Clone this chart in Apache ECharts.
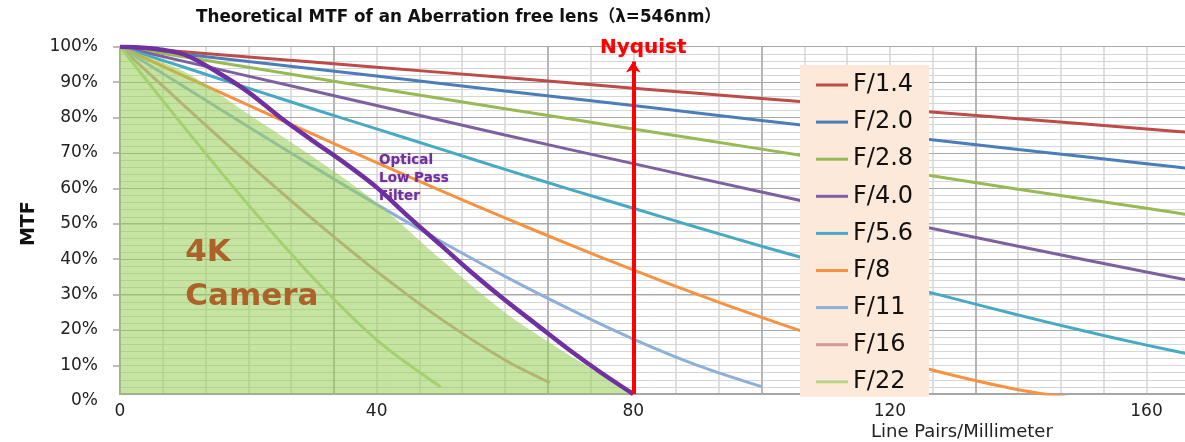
<!DOCTYPE html>
<html>
<head>
<meta charset="utf-8">
<script src="https://cdn.jsdelivr.net/npm/echarts@6/dist/echarts.min.js"></script>
<style>
  html, body { margin: 0; padding: 0; background: #ffffff; }
  #chart { width: 1185px; height: 442px; }
</style>
</head>
<body>
<div id="chart"></div>
<script>
// ---- Text ----
const TITLE = 'Theoretical MTF of an Aberration free lens（λ=546nm）';
const X_NAME = 'Line Pairs/Millimeter';
const Y_NAME = 'MTF';
const NYQUIST_LABEL = 'Nyquist';
const OLPF_LABEL = 'Optical\nLow Pass\nFilter';
const CAMERA_LABEL = '4K\nCamera';

// ---- Axis ticks ----
const X_TICK_LABELS = [0, 40, 80, 120, 160];
const Y_TICK_LABELS = [0, 0.1, 0.2, 0.3, 0.4, 0.5, 0.6, 0.7, 0.8, 0.9, 1.0];
const Y_TICK_MARKS = [0.1, 0.2, 0.3, 0.4, 0.5, 0.6, 0.7, 0.8, 0.9, 1.0];

// ---- Lens MTF curves (frequency in lp/mm, MTF as fraction) ----
const fStops = ['F/1.4', 'F/2.0', 'F/2.8', 'F/4.0', 'F/5.6', 'F/8', 'F/11', 'F/16', 'F/22'];

const freqWide = [0, 20, 40, 60, 80, 100, 120, 140, 160, 170];
const mtfF14 = [1, 0.971, 0.942, 0.913, 0.883, 0.854, 0.825, 0.797, 0.768, 0.753];
const mtfF20 = [1, 0.958, 0.917, 0.875, 0.834, 0.792, 0.751, 0.710, 0.670, 0.650];
const mtfF28 = [1, 0.942, 0.883, 0.825, 0.768, 0.711, 0.654, 0.598, 0.544, 0.516];
const mtfF40 = [1, 0.917, 0.834, 0.751, 0.670, 0.590, 0.512, 0.437, 0.364, 0.329];

const freqF56 = [0, 10, 20, 30, 40, 50, 60, 70, 80, 90, 100, 110, 120, 130, 140, 150, 160, 170];
const mtfF56 = [1, 0.942, 0.883, 0.825, 0.768, 0.711, 0.654, 0.598, 0.544, 0.490, 0.437, 0.386, 0.336, 0.289, 0.243, 0.199, 0.158, 0.120];

const freqF8 = [0, 10, 20, 30, 40, 50, 60, 70, 80, 90, 100, 110, 120, 130, 140, 150];
const mtfF8 = [1, 0.917, 0.835, 0.754, 0.673, 0.594, 0.517, 0.442, 0.370, 0.301, 0.236, 0.175, 0.120, 0.072, 0.032, 0.005];

const freqF11 = [0, 10, 20, 30, 40, 50, 60, 70, 80, 90, 100];
const mtfF11 = [1, 0.887, 0.774, 0.663, 0.555, 0.451, 0.352, 0.260, 0.175, 0.101, 0.041];

const freqF16 = [0, 10, 20, 30, 40, 50, 60, 67];
const mtfF16 = [1, 0.834, 0.671, 0.514, 0.366, 0.232, 0.116, 0.052];

const freqF22 = [0, 10, 20, 30, 40, 50];
const mtfF22 = [1, 0.773, 0.554, 0.350, 0.173, 0.040];

// ---- Optical low pass filter response ----
const freqOlpf = [0, 5, 10, 15, 20, 25, 30, 35, 40, 45, 50, 55, 60, 65, 70, 75, 80];
const mtfOlpf = [1, 0.995, 0.978, 0.930, 0.872, 0.800, 0.735, 0.672, 0.603, 0.520, 0.440, 0.360, 0.285, 0.215, 0.145, 0.080, 0.020];

// ---- 4K camera region (upper edge) ----
const freqCamera = [0, 10, 20, 30, 40, 50, 60, 70, 80];
const mtfCamera = [1, 0.930, 0.810, 0.690, 0.560, 0.400, 0.250, 0.130, 0.020];

// ---- Nyquist frequency marker ----
const NYQUIST_FREQ = 80;
const NYQUIST_SPAN = [0.02, 0.958];

// ---- Styles ----
const lineColors = ['#be4b48', '#4a7ebb', '#98b954', '#7d60a0', '#46aac5', '#f69240', '#8eb0d8', '#d99694', '#b7d68c'];
const FONT = '"DejaVu Sans", "Noto Sans CJK SC", sans-serif';
const GRID_LIGHT = '#d6d6d6';
const GRID_DARK = '#a9a9a9';
const AXIS_GRAY = '#a6a6a6';

const zip = (xs, ys) => xs.map((x, i) => [x, ys[i]]);

const curves = [
  zip(freqWide, mtfF14),
  zip(freqWide, mtfF20),
  zip(freqWide, mtfF28),
  zip(freqWide, mtfF40),
  zip(freqF56, mtfF56),
  zip(freqF8, mtfF8),
  zip(freqF11, mtfF11),
  zip(freqF16, mtfF16),
  zip(freqF22, mtfF22)
];

const X_MAX = 166;

const lensSeries = curves.map((data, i) => ({
  name: fStops[i],
  type: 'line',
  xAxisIndex: 0,
  yAxisIndex: 0,
  data: data,
  symbol: 'none',
  smooth: 0.3,
  clip: true,
  z: 2,
  lineStyle: { color: lineColors[i], width: 3 },
  itemStyle: { color: lineColors[i] }
}));

const chart = echarts.init(document.getElementById('chart'), null, { renderer: 'canvas' });

chart.setOption({
  animation: false,
  textStyle: { fontFamily: FONT },
  title: [
    {
      text: TITLE,
      left: 196,
      top: 9,
      padding: 0,
      textStyle: { fontFamily: FONT, fontSize: 16.8, fontWeight: 'bold', color: '#111111' }
    },
    {
      text: X_NAME,
      left: 871,
      top: 423,
      padding: 0,
      textStyle: { fontFamily: FONT, fontSize: 18, fontWeight: 'normal', color: '#222222' }
    }
  ],
  legend: {
    data: fStops,
    orient: 'vertical',
    left: 800,
    top: 65,
    padding: [8, 16, 3, 16],
    backgroundColor: '#fde9d9',
    icon: 'rect',
    itemWidth: 32,
    itemHeight: 3,
    itemGap: 13.1,
    selectedMode: false,
    textStyle: { fontFamily: FONT, fontSize: 24, lineHeight: 24, color: '#111111' }
  },
  grid: [
    { left: 120, right: 0, top: 46.7, bottom: 48 },
    { left: 120, right: 0, top: 46.7, bottom: 41.3 }
  ],
  xAxis: [
    {
      type: 'value', gridIndex: 0, position: 'bottom',
      min: 0, max: X_MAX, interval: 20 / 3,
      axisLine: { show: true, lineStyle: { color: AXIS_GRAY, width: 2 } },
      axisTick: { show: false },
      axisLabel: {
        customValues: X_TICK_LABELS, margin: 9,
        fontFamily: FONT, fontSize: 17, color: '#222222',
        formatter: v => String(Math.round(v))
      },
      splitLine: { show: true, showMaxLine: false, lineStyle: { color: GRID_LIGHT, width: 1.5 } }
    },
    {
      type: 'value', gridIndex: 0, position: 'top',
      min: 0, max: X_MAX, interval: 100 / 3,
      axisLine: { show: false }, axisTick: { show: false }, axisLabel: { show: false },
      splitLine: { show: true, showMaxLine: false, lineStyle: { color: GRID_DARK, width: 1.5 } },
      z: 1
    },
    {
      type: 'value', gridIndex: 1, min: 0, max: X_MAX, interval: 100 / 3,
      axisLine: { show: false }, axisTick: { show: false }, axisLabel: { show: false },
      splitLine: { show: false }
    }
  ],
  yAxis: [
    {
      type: 'value', gridIndex: 0,
      min: 0.02, max: 1, interval: 0.02,
      axisLine: { show: true, lineStyle: { color: AXIS_GRAY, width: 2 } },
      axisTick: { show: false },
      axisLabel: { show: false },
      splitLine: { show: true, showMinLine: false, lineStyle: { color: GRID_LIGHT, width: 1 } }
    },
    {
      type: 'value', gridIndex: 1,
      min: 0, max: 1, interval: 0.1,
      name: Y_NAME, nameLocation: 'middle', nameGap: 81, nameRotate: 90,
      nameTextStyle: { fontFamily: FONT, fontSize: 19, fontWeight: 'bold', color: '#111111' },
      axisLine: { show: false },
      axisTick: { show: true, customValues: Y_TICK_MARKS, length: 7, lineStyle: { color: AXIS_GRAY, width: 1.5 } },
      axisLabel: {
        customValues: Y_TICK_LABELS, margin: 22,
        fontFamily: FONT, fontSize: 17, color: '#222222',
        formatter: v => Math.round(v * 100) + '%'
      },
      splitLine: { show: true, showMinLine: false, lineStyle: { color: GRID_DARK, width: 1.2 } },
      z: 1
    }
  ],
  series: lensSeries.concat([
    {
      name: '4K Camera',
      type: 'line',
      xAxisIndex: 0, yAxisIndex: 0,
      data: zip(freqCamera, mtfCamera),
      symbol: 'none',
      smooth: 0.3,
      z: 3,
      lineStyle: { width: 0, opacity: 0 },
      areaStyle: { color: 'rgba(150, 205, 85, 0.55)', opacity: 1, origin: 'start' },
      markPoint: {
        symbol: 'rect', symbolSize: 1,
        itemStyle: { color: 'transparent' },
        label: {
          show: true, position: 'right', distance: 0,
          formatter: CAMERA_LABEL,
          fontFamily: FONT, fontSize: 31, fontWeight: 'bold', lineHeight: 44,
          color: '#ad622a', align: 'left'
        },
        data: [{ coord: [10.1, 0.357] }]
      }
    },
    {
      name: 'Optical Low Pass Filter',
      type: 'line',
      xAxisIndex: 0, yAxisIndex: 0,
      data: zip(freqOlpf, mtfOlpf),
      symbol: 'none',
      smooth: 0.3,
      z: 4,
      lineStyle: { color: '#7030a0', width: 4.5 },
      markPoint: {
        symbol: 'rect', symbolSize: 1,
        itemStyle: { color: 'transparent' },
        label: {
          show: true, position: 'right', distance: 0,
          formatter: OLPF_LABEL,
          fontFamily: FONT, fontSize: 13.5, fontWeight: 'bold', lineHeight: 18.3,
          color: '#7030a0', align: 'left',
          textShadowColor: 'rgba(60, 0, 90, 0.35)', textShadowBlur: 2
        },
        data: [{ coord: [40.3, 0.6285] }]
      },
      markLine: {
        silent: true,
        symbol: ['none', 'arrow'],
        symbolSize: 11,
        lineStyle: { color: '#ff0000', width: 4, type: 'solid' },
        label: {
          show: true, position: 'end', distance: 4, offset: [10, 0],
          formatter: NYQUIST_LABEL,
          fontFamily: FONT, fontSize: 20, fontWeight: 'bold', color: '#ff0000',
          textShadowColor: 'rgba(120, 0, 0, 0.3)', textShadowBlur: 2
        },
        data: [[
          { coord: [NYQUIST_FREQ, NYQUIST_SPAN[0]] },
          { coord: [NYQUIST_FREQ, NYQUIST_SPAN[1]] }
        ]]
      }
    }
  ])
});
</script>
</body>
</html>
